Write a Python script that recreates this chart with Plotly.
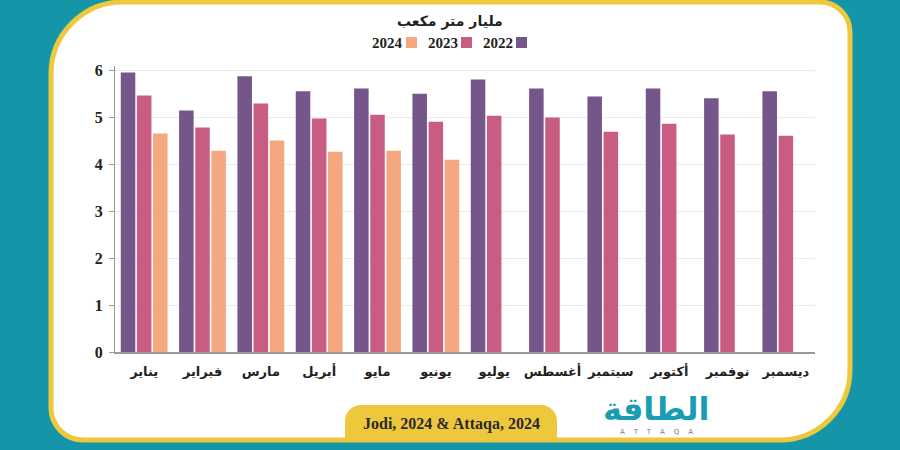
import plotly.graph_objects as go

months = ["يناير", "فبراير", "مارس", "أبريل", "مايو", "يونيو",
          "يوليو", "أغسطس", "سبتمبر", "أكتوبر", "نوفمبر", "ديسمبر"]
v2022 = [5.96, 5.15, 5.88, 5.56, 5.62, 5.51, 5.81, 5.62, 5.45, 5.62, 5.41, 5.56]
v2023 = [5.47, 4.79, 5.30, 4.98, 5.06, 4.91, 5.04, 5.00, 4.70, 4.87, 4.64, 4.61]
v2024 = [4.66, 4.29, 4.51, 4.27, 4.29, 4.10]
years = ["2022", "2023", "2024"]
colors = ["#75568a", "#c95c82", "#f5a880"]
y_ticks = [0, 1, 2, 3, 4, 5, 6]

W_, H_ = 900, 450
L, R, T, B = 115, 815, 66, 352

def px(x):
    return (x - L) / (R - L)

def py(y):
    return (B - y) / (B - T)

def path(points_cmds):
    out = []
    for cmd in points_cmds:
        c = cmd[0]
        nums = cmd[1:]
        coords = []
        for i in range(0, len(nums), 2):
            coords.append(f"{px(nums[i]):.5f},{py(nums[i+1]):.5f}")
        out.append(c + " " + " ".join(coords))
    return " ".join(out) + " Z"

k = 0.5523
def rounded(x0, y0, x1, y1, rtl, rtr, rbr, rbl):
    return path([
        ("M", x0 + rtl, y0),
        ("L", x1 - rtr, y0),
        ("C", x1 - rtr + k * rtr, y0, x1, y0 + rtr - k * rtr, x1, y0 + rtr),
        ("L", x1, y1 - rbr),
        ("C", x1, y1 - rbr + k * rbr, x1 - rbr + k * rbr, y1, x1 - rbr, y1),
        ("L", x0 + rbl, y1),
        ("C", x0 + rbl - k * rbl, y1, x0, y1 - rbl + k * rbl, x0, y1 - rbl),
        ("L", x0, y0 + rtl),
        ("C", x0, y0 + rtl - k * rtl, x0 + rtl - k * rtl, y0, x0 + rtl, y0),
    ])

fig = go.Figure()
for name, vals, col in zip(years, [v2022, v2023, v2024], colors):
    fig.add_trace(go.Bar(x=months[:len(vals)], y=vals, name=name,
                         marker=dict(color=col, line=dict(width=0))))

shapes = []
# card
shapes.append(dict(type="path", xref="paper", yref="paper", layer="below",
                   path=rounded(51, 2, 850, 440, 72, 30, 70, 32),
                   fillcolor="white", line=dict(color="#eec83c", width=5)))
# source tab
shapes.append(dict(type="path", xref="paper", yref="paper", layer="above",
                   path=rounded(345, 405, 557, 442, 16, 16, 0, 0),
                   fillcolor="#eec83c", line=dict(width=0)))

annotations = []
annotations.append(dict(text="<b>مليار متر مكعب</b>", x=px(450), y=py(21), xref="paper", yref="paper",
                        showarrow=False, xanchor="center", yanchor="middle",
                        font=dict(family="DejaVu Sans", size=14, color="#222")))
leg_sq_x = [516, 461, 406]
for name, col, sx in zip(years, colors, leg_sq_x):
    shapes.append(dict(type="rect", xref="paper", yref="paper",
                       x0=px(sx), x1=px(sx + 11), y0=py(37), y1=py(48),
                       fillcolor=col, line=dict(width=0)))
    annotations.append(dict(text="<b>" + name + "</b>", x=px(sx - 1), y=py(43), xref="paper", yref="paper",
                            showarrow=False, xanchor="right", yanchor="middle",
                            font=dict(family="Liberation Serif", size=15, color="#222")))
annotations.append(dict(text="<b>Jodi, 2024 & Attaqa, 2024</b>", x=px(451), y=py(424), xref="paper", yref="paper",
                        showarrow=False, xanchor="center", yanchor="middle",
                        font=dict(family="Liberation Serif", size=16, color="#2a2a2a")))
annotations.append(dict(text="<b>الطاقة</b>", x=px(656), y=py(409), xref="paper", yref="paper",
                        showarrow=False, xanchor="center", yanchor="middle",
                        font=dict(family="DejaVu Sans", size=32, color="#1a9db2")))
annotations.append(dict(text="A    T    T    A    Q    A", x=px(656), y=py(432), xref="paper", yref="paper",
                        showarrow=False, xanchor="center", yanchor="middle",
                        font=dict(family="DejaVu Sans", size=7, color="#777")))

fig.update_layout(
    width=W_, height=H_,
    margin=dict(l=L, r=W_ - R, t=T, b=H_ - B, pad=0),
    paper_bgcolor="#1595a8",
    plot_bgcolor="rgba(0,0,0,0)",
    showlegend=False,
    barmode="group",
    bargap=0.17,
    bargroupgap=0.1,
    shapes=shapes,
    annotations=annotations,
    xaxis=dict(type="category", categoryorder="array", categoryarray=months,
               showline=True, linecolor="#999", linewidth=1.5,
               showgrid=False, ticks="", ticklabelstandoff=7,
               tickfont=dict(family="DejaVu Sans", size=13, color="#222", weight="bold")),
    yaxis=dict(range=[0, 6.1], tickvals=y_ticks, showgrid=True, gridcolor="#ececec", gridwidth=1,
               showline=True, linecolor="#999", linewidth=1, ticks="outside", ticklen=5,
               tickcolor="#999", zeroline=False, ticklabelstandoff=3,
               tickfont=dict(family="Liberation Serif", size=16, color="#222", weight="bold")),
)

fig.write_html("out.html")
